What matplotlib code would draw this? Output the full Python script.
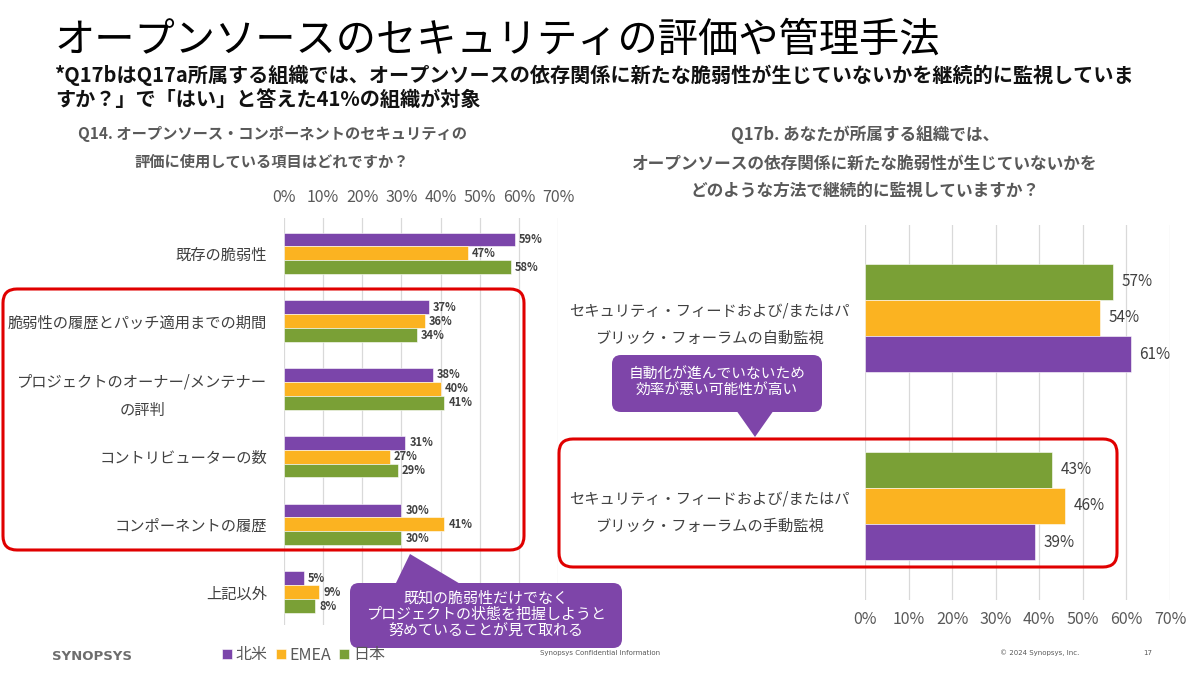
import numpy as np
import matplotlib
matplotlib.use("Agg")
import matplotlib.pyplot as plt
from matplotlib.patches import FancyBboxPatch, Polygon

plt.rcParams["font.family"] = ["Noto Sans CJK JP", "DejaVu Sans"]

# ==========================
# DATA
# ==========================
series = ["北米", "EMEA", "日本"]
colors = ["#7B45AA", "#FBB321", "#7AA036"]

q14_items = [
    "既存の脆弱性",
    "脆弱性の履歴とパッチ適用までの期間",
    "プロジェクトのオーナー/メンテナー\nの評判",
    "コントリビューターの数",
    "コンポーネントの履歴",
    "上記以外",
]
q14_na = [59, 37, 38, 31, 30, 5]
q14_emea = [47, 36, 40, 27, 41, 9]
q14_jp = [58, 34, 41, 29, 30, 8]

q17_items = [
    "セキュリティ・フィードおよび/またはパ\nブリック・フォーラムの自動監視",
    "セキュリティ・フィードおよび/またはパ\nブリック・フォーラムの手動監視",
]
q17_na = [61, 39]
q17_emea = [54, 46]
q17_jp = [57, 43]

ticks = [0, 10, 20, 30, 40, 50, 60, 70]
tick_labels = [f"{t}%" for t in ticks]

GRAY = "#595959"
W, H = 1200, 675


def px_axes(fig, x0, y0, x1, y1, **kw):
    return fig.add_axes([x0 / W, 1 - y1 / H, (x1 - x0) / W, (y1 - y0) / H], **kw)


def style_axis(ax):
    for s in ax.spines.values():
        s.set_visible(False)
    ax.set_xlim(0, 70)
    ax.set_xticks(ticks)
    ax.set_xticklabels(tick_labels)
    ax.tick_params(length=0, colors=GRAY, labelsize=11.5)
    ax.grid(axis="x", color="#D9D9D9", lw=0.9)
    ax.set_axisbelow(True)


fig = plt.figure(figsize=(12, 6.75), dpi=100)

# ------------------- LEFT: Q14 -------------------
ax1 = px_axes(fig, 284, 218, 558, 625)
style_axis(ax1)
ax1.xaxis.tick_top()
ax1.tick_params(axis="x", pad=9)
y = np.arange(len(q14_items))
bh = 0.205
bars = []
for k, (vals, c) in enumerate(zip([q14_na, q14_emea, q14_jp], colors)):
    yy = y + (k - 1) * bh
    b = ax1.barh(yy, vals, height=bh, color=c, edgecolor="white", lw=0.4, label=series[k])
    bars.append(b)
    for yi, v in zip(yy, vals):
        ax1.text(v + 1.0, yi, f"{v}%", va="center", ha="left", fontsize=8,
                 fontweight="bold", color="#404040")
ax1.set_ylim(5.0 + (625 - 592) / 68, -(253.5 - 218) / 68)
ax1.set_yticks(y)
ax1.set_yticklabels(q14_items, fontsize=11, color="#404040", linespacing=1.85,
                    multialignment="center")
ax1.tick_params(axis="y", pad=12)

# ------------------- RIGHT: Q17b -------------------
ax2 = px_axes(fig, 865, 225, 1170, 600)
style_axis(ax2)
ax2.tick_params(axis="x", pad=8)
y2 = np.arange(len(q17_items))
bh2 = 0.192
for k, (vals, c) in enumerate(zip([q17_jp, q17_emea, q17_na], colors[::-1])):
    yy = y2 + (k - 1) * bh2
    ax2.barh(yy, vals, height=bh2, color=c, edgecolor="white", lw=0.4)
    for yi, v in zip(yy, vals):
        ax2.text(v + 2.0, yi, f"{v}%", va="center", ha="left", fontsize=11, color="#404040")
ax2.set_ylim((600 - 318) / 188, -(318 - 225) / 188)
ax2.set_yticks(y2)
ax2.set_yticklabels(q17_items, fontsize=11, color="#404040", linespacing=1.75,
                    multialignment="center")
ax2.tick_params(axis="y", pad=11)

# ------------------- OVERLAY -------------------
ov = fig.add_axes([0, 0, 1, 1], zorder=10)
ov.set_xlim(0, W)
ov.set_ylim(H, 0)
ov.axis("off")
ov.patch.set_alpha(0)

ov.text(55, 40, "オープンソースのセキュリティの評価や管理手法", fontsize=29, color="black",
        va="center", ha="left")
ov.text(55, 75, "*Q17bはQ17a所属する組織では、オープンソースの依存関係に新たな脆弱性が生じていないかを継続的に監視していま",
        fontsize=14.5, fontweight="bold", va="center", ha="left", color="#111111")
ov.text(55, 99, "すか？」で「はい」と答えた41%の組織が対象",
        fontsize=14.5, fontweight="bold", va="center", ha="left", color="#111111")

ov.text(272, 148, "Q14. オープンソース・コンポーネントのセキュリティの\n評価に使用している項目はどれですか？",
        fontsize=11, color=GRAY, fontweight="bold", ha="center", va="center", linespacing=1.9)
ov.text(865, 163, "Q17b. あなたが所属する組織では、\nオープンソースの依存関係に新たな脆弱性が生じていないかを\nどのような方法で継続的に監視していますか？",
        fontsize=12, color=GRAY, fontweight="bold", ha="center", va="center", linespacing=1.75)

# red highlight boxes
for (x0, y0, x1, y1) in [(3, 289, 524, 550), (559, 439, 1117, 567)]:
    ov.add_patch(FancyBboxPatch((x0, y0), x1 - x0, y1 - y0,
                                boxstyle="round,pad=0,rounding_size=14",
                                fc="none", ec="#E00000", lw=2.2))

# callouts
PURPLE = "#7E45A9"
ov.add_patch(FancyBboxPatch((350, 583), 272, 65, boxstyle="round,pad=0,rounding_size=9",
                            fc=PURPLE, ec="none"))
ov.add_patch(Polygon([(395, 585), (410, 554), (462, 585)], closed=True, fc=PURPLE, ec="none"))
ov.text(486, 615, "既知の脆弱性だけでなく\nプロジェクトの状態を把握しようと\n努めていることが見て取れる",
        fontsize=10.8, color="white", ha="center", va="center", linespacing=1.2)

ov.add_patch(FancyBboxPatch((612, 355), 210, 57, boxstyle="round,pad=0,rounding_size=9",
                            fc=PURPLE, ec="none"))
ov.add_patch(Polygon([(736, 410), (755, 437), (774, 410)], closed=True, fc=PURPLE, ec="none"))
ov.text(717, 383, "自動化が進んでいないため\n効率が悪い可能性が高い",
        fontsize=10.6, color="white", ha="center", va="center", linespacing=1.2)

# footer
ov.text(52, 657, "SYNOPSYS", fontsize=9.5, fontweight="bold", color="#6D6D6D",
        family="DejaVu Sans", va="center", ha="left")
ov.text(540, 653, "Synopsys Confidential Information", fontsize=5, color=GRAY,
        family="DejaVu Sans", va="center", ha="left")
ov.text(1000, 653, "© 2024 Synopsys, Inc.", fontsize=5, color=GRAY,
        family="DejaVu Sans", va="center", ha="left")
ov.text(1143, 653, "17", fontsize=5, color=GRAY, family="DejaVu Sans", va="center", ha="left")

leg = fig.legend(bars, series, loc="center left", bbox_to_anchor=(208 / W, 1 - 655 / H),
                 ncol=3, frameon=False, fontsize=11.5, handlelength=0.6, handleheight=0.6,
                 handletextpad=0.25, columnspacing=0.5, labelcolor=GRAY)
leg.set_zorder(20)

fig.savefig("out.png", dpi=100)
